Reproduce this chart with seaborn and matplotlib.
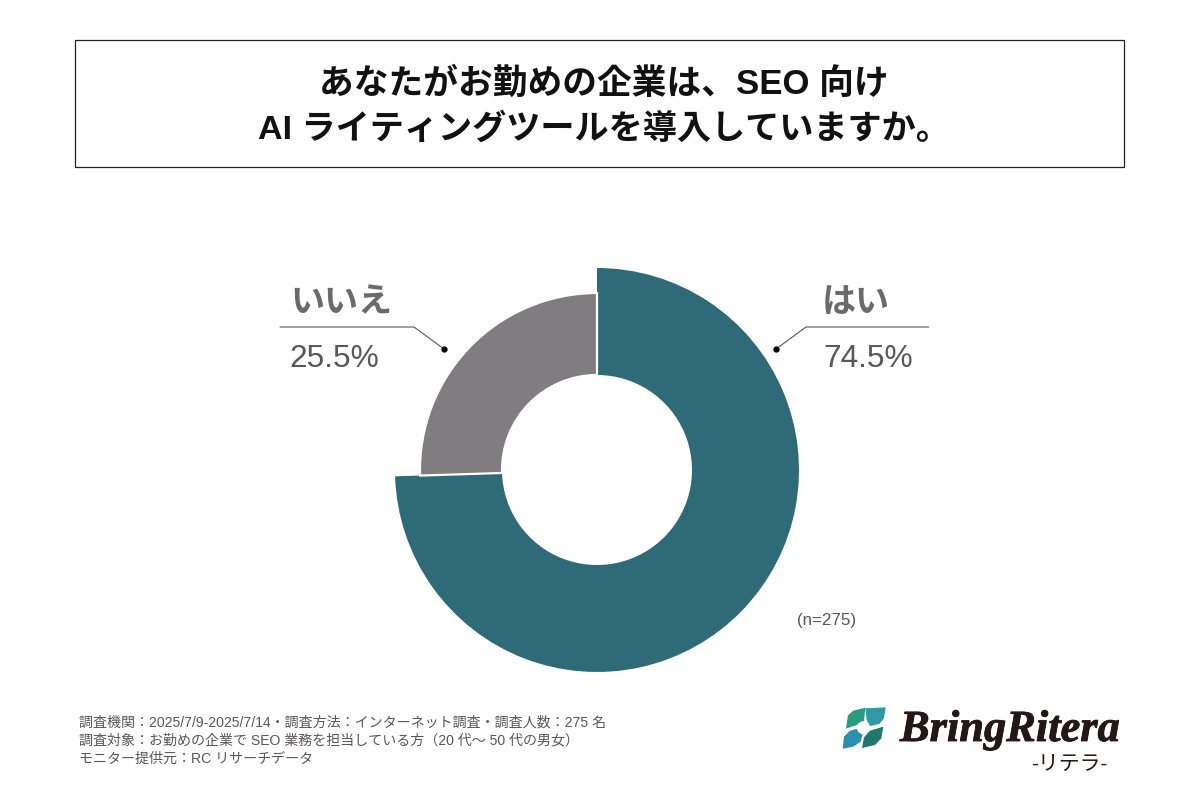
import matplotlib
matplotlib.use("Agg")
import matplotlib.pyplot as plt
import matplotlib.patheffects as pe
from matplotlib.patches import Rectangle, Polygon, Circle
import seaborn as sns

categories = ["はい", "いいえ"]
values = [74.5, 25.5]
value_labels = ["74.5%", "25.5%"]
title_lines = ["あなたがお勤めの企業は、SEO 向け", "AI ライティングツールを導入していますか。"]
note_lines = ["調査機関：2025/7/9-2025/7/14・調査方法：インターネット調査・調査人数：275 名",
              "調査対象：お勤めの企業で SEO 業務を担当している方（20 代～ 50 代の男女）",
              "モニター提供元：RC リサーチデータ"]
sample = "(n=275)"
brand = "BringRitera"
brand_sub = "-リテラ-"

sns.set_theme(style="white")
plt.rcParams['font.family'] = ['Liberation Sans', 'Noto Sans CJK JP', 'DejaVu Sans']

TEAL, GRAY, TXT = "#2f6a78", "#807c80", "#595757"

fig = plt.figure(figsize=(12, 8), dpi=100, facecolor="white")

bg = fig.add_axes([0, 0, 1, 1])
bg.set_xlim(0, 1200); bg.set_ylim(800, 0); bg.axis("off")

cx, cy, half = 597, 470, 250
ax = fig.add_axes([(cx-half)/1200, 1-(cy+half)/800, 2*half/1200, 2*half/800])
R_big, R_small, R_in = 202, 177, 95
w1, _ = ax.pie(values, startangle=90, counterclock=False, radius=R_big,
               colors=[TEAL, "none"], wedgeprops=dict(width=R_big-R_in, edgecolor="none", linewidth=0))
w2, _ = ax.pie(values, startangle=90, counterclock=False, radius=R_small,
               colors=["none", GRAY], wedgeprops=dict(width=R_small-R_in, edgecolor="white", linewidth=1.6))
w1[1].set_visible(False); w2[0].set_visible(False)
ax.set_xlim(-half, half); ax.set_ylim(-half, half); ax.set_aspect("equal"); ax.axis("off")

bg.add_patch(Rectangle((75, 40), 1049, 126.5, fill=False, ec="#222222", lw=0.9))
bg.text(604, 84, title_lines[0], ha="center", va="center", fontsize=25, fontweight="bold", color="#111111")
bg.text(604, 129, title_lines[1], ha="center", va="center", fontsize=24.6, fontweight="bold", color="#111111")

bg.plot([929, 806, 776], [327, 327, 349], color=TXT, lw=0.8)
bg.plot([776], [349], "o", color="black", ms=3.5)
bg.plot([280, 414, 444], [327, 327, 349], color=TXT, lw=0.8)
bg.plot([444], [349], "o", color="black", ms=3.5)
bg.text(822, 304, categories[0], ha="left", va="center", fontsize=24.5, fontweight="bold", color="#6a6a6a")
bg.text(823, 359, value_labels[0], ha="left", va="center", fontsize=22.8, color=TXT)
bg.text(290, 304, categories[1], ha="left", va="center", fontsize=24.5, fontweight="bold", color="#6a6a6a")
bg.text(289, 359, value_labels[1], ha="left", va="center", fontsize=22.8, color=TXT)
bg.text(797, 620, sample, ha="left", va="center", fontsize=12.2, color=TXT)

for y, line in zip([722.5, 740.5, 758.5], note_lines):
    bg.text(79, y, line, ha="left", va="center", fontsize=10.1, color=TXT)

def z(pts):
    return [(820 + a/3, 690 + b/3) for a, b in pts]
bg.add_patch(Polygon(z([(68,176),(72,140),(90,122),(112,116),(130,125),(122,155),(100,170)]), color="#2b8fb0", lw=0))
bg.add_patch(Polygon(z([(126,174),(132,142),(150,122),(190,110),(184,145),(165,165)]), color="#20776f", lw=0))
bg.add_patch(Polygon(z([(78,116),(84,76),(100,62),(136,53),(132,95),(110,105)]), color="#2a9a80", lw=0))
bg.add_patch(Polygon(z([(136,55),(197,52),(192,85),(178,102),(150,108),(140,90)]), color="#2f9aa6", lw=0))
bg.add_patch(Circle((820+130/3, 690+113/3), 6.5, color="white", lw=0))
bg.text(900, 730, brand, ha="left", va="center", fontsize=32, fontweight="bold", style="italic",
        family="Liberation Serif", color="#231815",
        path_effects=[pe.withStroke(linewidth=0.6, foreground="#231815")])
bg.text(1069, 764, brand_sub, ha="center", va="center", fontsize=15, color="#231815")

fig.savefig("out.png", dpi=100, facecolor="white")
